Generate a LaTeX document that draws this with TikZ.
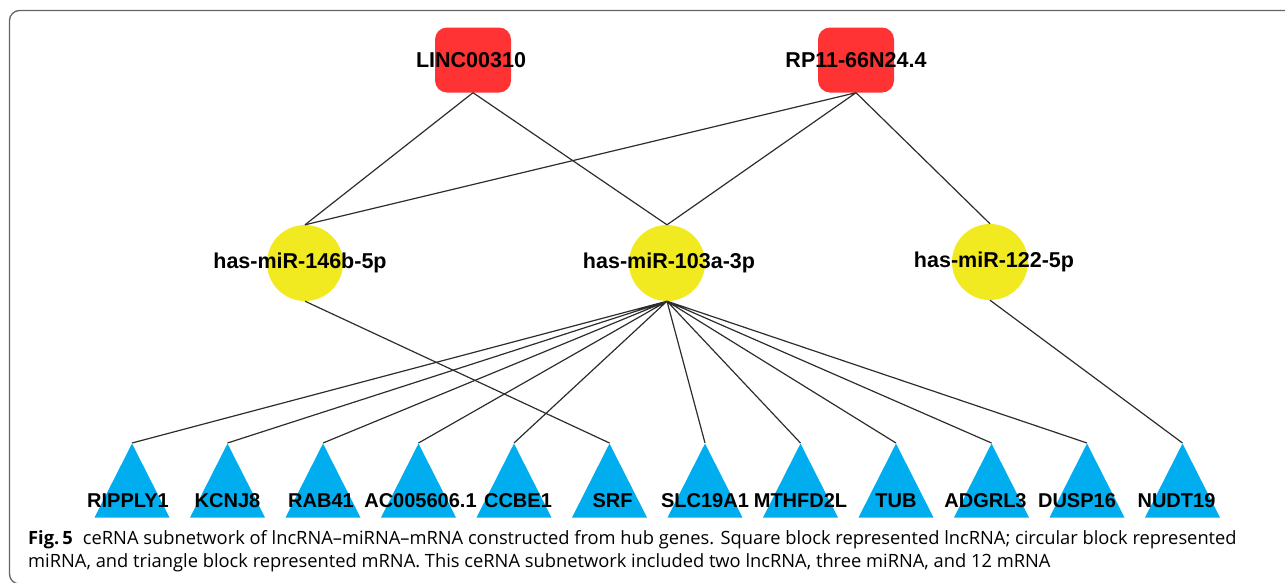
\documentclass[tikz,border=0pt]{standalone}
\usepackage{fontspec}
\setsansfont{Liberation Sans}
\newfontfamily\capfont{Open Sans}
\usetikzlibrary{shapes.geometric}
\definecolor{lncred}{RGB}{255,51,51}
\definecolor{miryellow}{RGB}{241,234,32}
\definecolor{mrnablue}{RGB}{0,174,239}
\definecolor{edgegray}{RGB}{45,45,45}
\definecolor{framegray}{RGB}{100,100,100}

\begin{document}
\begin{tikzpicture}[x=1pt, y=-1pt,
  gene/.style={font=\sffamily\bfseries\fontsize{21.5}{24}\selectfont, inner sep=0pt},
  lnc/.style={fill=lncred, rounded corners=12pt, minimum width=76pt, minimum height=65pt, inner sep=0pt},
  mir/.style={circle, fill=miryellow, minimum size=76pt, inner sep=0pt},
  mrna/.style={isosceles triangle, isosceles triangle stretches, shape border rotate=90, minimum width=75pt, minimum height=74pt, inner sep=0pt, fill=mrnablue, anchor=north},
  mrnalab/.style={gene, font=\sffamily\bfseries\fontsize{20}{22}\selectfont, anchor=center, yshift=17pt},
  link/.style={draw=edgegray, line width=1.2pt},
  capnode/.style={font=\capfont\fontsize{18.3}{21}\selectfont, inner sep=0pt, anchor=base west}]
\useasboundingbox (0,0) rectangle (1285,582);
\draw[framegray, line width=1.3pt, rounded corners=10pt] (1300,584) -- (9.5,584) -- (9.5,10.5) -- (1300,10.5);

\node[lnc, label={[gene, xshift=-2pt]center:LINC00310}] (linc) at (473,60) {};
\node[lnc, label={[gene]center:RP11-66N24.4}] (rp11) at (856,60) {};

\node[mir, label={[gene, xshift=-5pt]center:has-miR-146b-5p}] (mir146) at (305,263) {};
\node[mir, label={[gene, xshift=2pt]center:has-miR-103a-3p}] (mir103) at (667,263) {};
\node[mir, label={[gene, xshift=4pt]center:has-miR-122-5p}] (mir122) at (990,262) {};

\node[mrna, label={[mrnalab, xshift=-4pt]south:RIPPLY1}] (ripply) at (132,443) {};
\node[mrna, label={[mrnalab]south:KCNJ8}] (kcnj) at (227.5,443) {};
\node[mrna, label={[mrnalab, xshift=-2pt]south:RAB41}] (rab) at (323,443) {};
\node[mrna, label={[mrnalab, xshift=2pt]south:AC005606.1}] (ac) at (418.5,443) {};
\node[mrna, label={[mrnalab, xshift=4pt]south:CCBE1}] (ccbe) at (514,443) {};
\node[mrna, label={[mrnalab, xshift=3pt]south:SRF}] (srf) at (609.5,443) {};
\node[mrna, label={[mrnalab]south:SLC19A1}] (slc) at (705,443) {};
\node[mrna, label={[mrnalab]south:MTHFD2L}] (mthfd) at (800.5,443) {};
\node[mrna, label={[mrnalab]south:TUB}] (tub) at (896,443) {};
\node[mrna, label={[mrnalab, xshift=-6pt]south:ADGRL3}] (adgrl) at (991.5,443) {};
\node[mrna, label={[mrnalab, xshift=-10pt]south:DUSP16}] (dusp) at (1087,443) {};
\node[mrna, label={[mrnalab, xshift=-6pt]south:NUDT19}] (nudt) at (1182.5,443) {};

\draw[link] (linc.south) -- (mir146.north) (linc.south) -- (mir103.north);
\draw[link] (rp11.south) -- (mir146.north) (rp11.south) -- (mir103.north) (rp11.south) -- (mir122.north);
\draw[link] (mir146.south) -- (srf.north);
\draw[link] (mir122.south) -- (nudt.north);
\draw[link] (mir103.south) -- (ripply.north) (mir103.south) -- (kcnj.north) (mir103.south) -- (rab.north)
  (mir103.south) -- (ac.north) (mir103.south) -- (ccbe.north) (mir103.south) -- (slc.north)
  (mir103.south) -- (mthfd.north) (mir103.south) -- (tub.north) (mir103.south) -- (adgrl.north)
  (mir103.south) -- (dusp.north);

\node[capnode] (cap1) at (28,544) {\textbf{Fig.\,5}\hspace{0.55em}ceRNA subnetwork of lncRNA–miRNA–mRNA constructed from hub genes. Square block represented lncRNA; circular block represented};
\node[capnode] (cap2) at (28,567) {miRNA, and triangle block represented mRNA. This ceRNA subnetwork included two lncRNA, three miRNA, and 12 mRNA};
\end{tikzpicture}
\end{document}
